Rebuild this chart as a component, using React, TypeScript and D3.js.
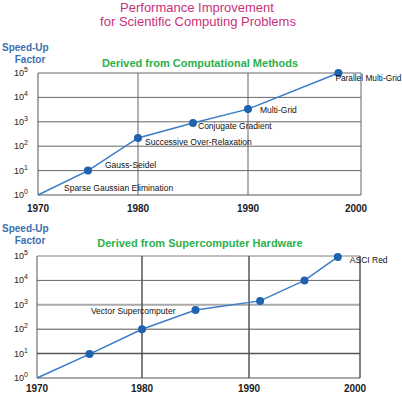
import React from "react";
import * as d3 from "d3";

const titleLines = ["Performance Improvement", "for Scientific Computing Problems"];
const yAxisTitle = ["Speed-Up", "Factor"];
const yearTicks = [1970, 1980, 1990, 2000];
const expTicks = [0, 1, 2, 3, 4, 5];

const methodsTitle = "Derived from Computational Methods";
const methodsYears = [1970, 1975, 1980, 1985, 1990, 1998];
const methodsExp = [0, 1, 2.34, 2.95, 3.52, 5];
const methodsMarker = [false, true, true, true, true, true];
const methodsLabels = ["", "Gauss-Seidel", "Successive Over-Relaxation", "Conjugate Gradient", "Multi-Grid", "Parallel Multi-Grid"];
const methodsExtraLabel = "Sparse Gaussian Elimination";

const hardwareTitle = "Derived from Supercomputer Hardware";
const hardwareYears = [1970, 1975, 1980, 1985, 1991, 1995, 1998];
const hardwareExp = [0, 0.98, 2, 2.79, 3.16, 4, 4.96];
const hardwareMarker = [false, true, true, true, true, true, true];
const hardwareLabels = ["", "", "", "Vector Supercomputer", "", "", "ASCI Red"];

const font = "Liberation Sans, Arial, sans-serif";

type PanelProps = {
  top: number;
  bottom: number;
  subtitle: string;
  subtitleY: number;
  axisTitleY: number;
  yearLabelY: number;
  years: number[];
  exps: number[];
  markers: boolean[];
  labels: string[];
  labelOffsets: [number, number, string, number?][];
  extra?: { text: string; x: number; y: number };
  xRange: number[];
  gridStyle: { color: string; width: number }[];
  vStyle: { color: string; width: number };
};

function Panel(p: PanelProps) {
  const x = d3.scaleLinear().domain(yearTicks).range(p.xRange);
  const y = d3.scaleLinear().domain([0, 5]).range([p.bottom, p.top]);
  const line = d3
    .line<number>()
    .x((_, i) => x(p.years[i]))
    .y((_, i) => y(p.exps[i]));
  const left = x(1970);
  const right = x(2000);
  return (
    <g>
      <text x={2} y={p.axisTitleY} fontFamily={font} fontSize={10} fontWeight="bold" fill="#3a6fb0">
        {yAxisTitle[0]}
      </text>
      <text x={30} y={p.axisTitleY + 12} fontFamily={font} fontSize={10} fontWeight="bold" fill="#3a6fb0" textAnchor="middle">
        {yAxisTitle[1]}
      </text>
      <text x={200} y={p.subtitleY} fontFamily={font} fontSize={11} fontWeight="bold" fill="#2db04a" textAnchor="middle">
        {p.subtitle}
      </text>
      {expTicks.slice(1).map((e) => (
        <line
          key={"h" + e}
          x1={left}
          x2={right}
          y1={y(e)}
          y2={y(e)}
          stroke={p.gridStyle[e].color}
          strokeWidth={p.gridStyle[e].width}
        />
      ))}
      {yearTicks.slice(1).map((yr) => (
        <line
          key={"v" + yr}
          x1={x(yr)}
          x2={x(yr)}
          y1={p.top}
          y2={p.bottom}
          stroke={p.vStyle.color}
          strokeWidth={p.vStyle.width}
        />
      ))}
      <line x1={left} x2={left} y1={p.top} y2={p.bottom} stroke="#555" strokeWidth={1} />
      <line x1={left} x2={right} y1={p.bottom} y2={p.bottom} stroke="#555" strokeWidth={1} />
      {expTicks.map((e) => (
        <text key={"t" + e} x={28} y={y(e) + 3} fontFamily={font} fontSize={9} fill="#222" textAnchor="end">
          10
          <tspan dy={-4} fontSize={7}>
            {e}
          </tspan>
        </text>
      ))}
      {yearTicks.map((yr) => (
        <text
          key={"y" + yr}
          x={x(yr) - (yr === 2000 ? 5 : 0)}
          y={p.yearLabelY}
          fontFamily={font}
          fontSize={10}
          fontWeight="bold"
          fill="#222"
          textAnchor="middle"
        >
          {yr}
        </text>
      ))}
      <path d={line(p.years) || ""} fill="none" stroke="#3a7cc8" strokeWidth={1.5} />
      {p.years.map((yr, i) =>
        p.markers[i] ? <circle key={"c" + i} cx={x(yr)} cy={y(p.exps[i])} r={4} fill="#1f62b0" /> : null
      )}
      {p.years.map((yr, i) =>
        p.labels[i] ? (
          <text
            key={"l" + i}
            x={x(yr) + p.labelOffsets[i][0]}
            y={y(p.exps[i]) + p.labelOffsets[i][1]}
            fontFamily={font}
            fontSize={8.5}
            fill="#111"
            textAnchor={p.labelOffsets[i][2] as any}
            textLength={p.labelOffsets[i][3]}
            lengthAdjust={p.labelOffsets[i][3] ? "spacingAndGlyphs" : undefined}
          >
            {p.labels[i]}
          </text>
        ) : null
      )}
      {p.extra ? (
        <text x={p.extra.x} y={p.extra.y} fontFamily={font} fontSize={8.5} fill="#111">
          {p.extra.text}
        </text>
      ) : null}
    </g>
  );
}

export default function App() {
  const dark = { color: "#666", width: 1 };
  return (
    <svg width={402} height={398} style={{ position: "absolute", left: 0, top: 0, background: "#fff" }}>
      <text x={197} y={12} fontFamily={font} fontSize={13} fill="#c8327a" textAnchor="middle">
        {titleLines[0]}
      </text>
      <text x={198} y={26} fontFamily={font} fontSize={13} fill="#c8327a" textAnchor="middle">
        {titleLines[1]}
      </text>
      <Panel
        top={73}
        bottom={195}
        subtitle={methodsTitle}
        subtitleY={67}
        axisTitleY={51}
        yearLabelY={212}
        years={methodsYears}
        exps={methodsExp}
        markers={methodsMarker}
        labels={methodsLabels}
        labelOffsets={[
          [0, 0, "start"],
          [17, -3, "start"],
          [7, 7, "start"],
          [5, 6, "start"],
          [12, 4, "start"],
          [-3, 8, "start", 66],
        ]}
        extra={{ text: methodsExtraLabel, x: 64, y: 191 }}
        xRange={[38, 138, 248, 361]}
        gridStyle={[dark, dark, dark, dark, dark, dark]}
        vStyle={dark}
      />
      <Panel
        top={256}
        bottom={378}
        subtitle={hardwareTitle}
        subtitleY={247}
        axisTitleY={232}
        yearLabelY={392}
        years={hardwareYears}
        exps={hardwareExp}
        markers={hardwareMarker}
        labels={hardwareLabels}
        labelOffsets={[
          [0, 0, "start"],
          [0, 0, "start"],
          [0, 0, "start"],
          [-20, 4, "end"],
          [0, 0, "start"],
          [0, 0, "start"],
          [12, 6, "start"],
        ]}
        xRange={[37, 142, 249, 360]}
        gridStyle={[
          dark,
          { color: "#555", width: 1.5 },
          { color: "#555", width: 1 },
          { color: "#aaa", width: 2 },
          { color: "#666", width: 1 },
          { color: "#aaa", width: 1.5 },
        ]}
        vStyle={{ color: "#555", width: 1.5 }}
      />
    </svg>
  );
}
